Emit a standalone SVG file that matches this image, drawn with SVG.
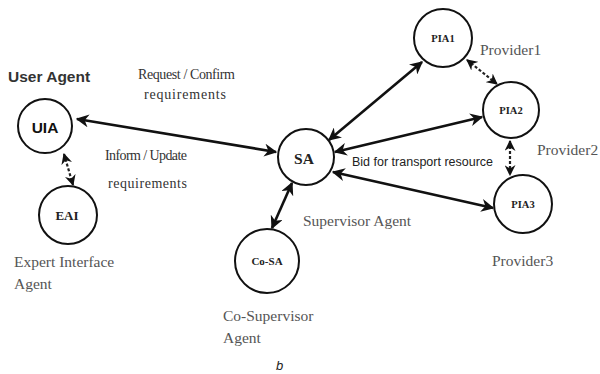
<svg xmlns="http://www.w3.org/2000/svg" width="600" height="374" viewBox="0 0 600 374">
  <style>
    .node circle { fill: #fff; stroke: #111; stroke-width: 2; }
    .nlabel { font-family: "Liberation Serif", serif; font-weight: bold; fill: #222; text-anchor: middle; dominant-baseline: central; }
    .lbl { font-family: "Liberation Serif", serif; font-size: 15.5px; fill: #555; }
    .req { font-family: "Liberation Serif", serif; font-size: 14px; fill: #333; }
    .sans { font-family: "Liberation Sans", Arial, sans-serif; }
    .link { stroke: #111; stroke-width: 2.6; fill: none; marker-start: url(#ah); marker-end: url(#ah); }
    .dash { stroke: #222; stroke-width: 2.2; fill: none; stroke-dasharray: 3 2; marker-start: url(#ahs); marker-end: url(#ahs); }
  </style>
  <defs>
    <marker id="ah" viewBox="0 0 10 10" refX="9" refY="5" markerWidth="5" markerHeight="5" orient="auto-start-reverse" markerUnits="strokeWidth">
      <path d="M0,0 L10,5 L0,10 L3,5 z" fill="#111"/>
    </marker>
    <marker id="ahs" viewBox="0 0 10 10" refX="9" refY="5" markerWidth="5" markerHeight="5" orient="auto-start-reverse" markerUnits="strokeWidth">
      <path d="M0,0 L10,5 L0,10 L3,5 z" fill="#111"/>
    </marker>
  </defs>
  <rect width="600" height="374" fill="#fff"/>

  <g id="connectors">
    <line class="link" x1="77" y1="119" x2="276" y2="152"/>
    <line class="dash" x1="64" y1="154" x2="73" y2="185"/>
    <line class="link" x1="292" y1="183" x2="272" y2="228"/>
    <line class="link" x1="329" y1="140" x2="422" y2="62"/>
    <line class="link" x1="335" y1="152" x2="482" y2="117"/>
    <line class="link" x1="333" y1="172" x2="493" y2="208"/>
    <line class="dash" x1="467" y1="60" x2="497" y2="84"/>
    <line class="dash" x1="510" y1="141" x2="510" y2="175"/>
  </g>

  <g id="uia" class="node">
    <circle cx="45" cy="126" r="27"/>
    <text class="nlabel" x="45" y="127" style="font-family:'Liberation Sans',Arial,sans-serif;font-size:15.5px;fill:#111">UIA</text>
  </g>
  <g id="eai" class="node">
    <circle cx="68" cy="215" r="29"/>
    <text class="nlabel" x="67" y="215" font-size="13">EAI</text>
  </g>
  <g id="sa" class="node">
    <circle cx="306" cy="157" r="28"/>
    <text class="nlabel" x="304" y="158" font-size="15.5">SA</text>
  </g>
  <g id="cosa" class="node">
    <circle cx="267" cy="261" r="32"/>
    <text class="nlabel" x="267" y="261" font-size="11">Co-SA</text>
  </g>
  <g id="pia1" class="node">
    <circle cx="443" cy="38" r="29"/>
    <text class="nlabel" x="443" y="38" font-size="10.5">PIA1</text>
  </g>
  <g id="pia2" class="node">
    <circle cx="511" cy="110" r="28"/>
    <text class="nlabel" x="511" y="110" font-size="10.5">PIA2</text>
  </g>
  <g id="pia3" class="node">
    <circle cx="523" cy="204" r="29"/>
    <text class="nlabel" x="523" y="204" font-size="10.5">PIA3</text>
  </g>

  <g id="labels">
    <text class="sans" x="8" y="82" font-size="15.5" font-weight="bold" fill="#333">User Agent</text>
    <text class="req" x="138" y="79" textLength="97">Request / Confirm</text>
    <text class="req" x="144" y="99" textLength="82">requirements</text>
    <text class="req" x="105" y="160" textLength="82">Inform / Update</text>
    <text class="req" x="108" y="188" textLength="79">requirements</text>
    <text class="sans" x="352" y="166" font-size="12.5" fill="#222">Bid for transport resource</text>
    <text class="lbl" x="303" y="226">Supervisor Agent</text>
    <text class="lbl" x="14" y="267">Expert Interface</text>
    <text class="lbl" x="14" y="289">Agent</text>
    <text class="lbl" x="223" y="321">Co-Supervisor</text>
    <text class="lbl" x="223" y="343">Agent</text>
    <text class="lbl" x="480" y="55">Provider1</text>
    <text class="lbl" x="537" y="155">Provider2</text>
    <text class="lbl" x="492" y="266">Provider3</text>
    <text class="sans" x="276" y="370" font-size="13" font-style="italic" fill="#222">b</text>
  </g>
</svg>
